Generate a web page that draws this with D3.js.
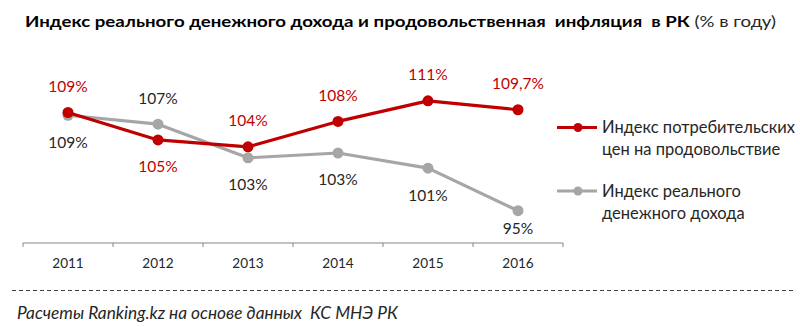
<!DOCTYPE html>
<html><head><meta charset="utf-8">
<script src="https://cdn.jsdelivr.net/npm/d3@7/dist/d3.min.js"></script>
<style>
html,body{margin:0;padding:0;background:#fff;}
svg{display:block;font-family:Lato,"Open Sans",sans-serif;}
.pre{white-space:pre;}
</style></head>
<body>
<svg id="chart" width="800" height="327"></svg>
<script>
// ---- data ----
const years = ["2011","2012","2013","2014","2015","2016"];
const foodCPI = [109.3, 105.3, 104.3, 108.0, 111.0, 109.7];
const foodCPILabels = ["109%","105%","104%","108%","111%","109,7%"];
const foodCPILabelPos = ["above","below","above","above","above","above"];
const realIncome = [108.9, 107.6, 102.7, 103.4, 101.2, 95.0];
const realIncomeLabels = ["109%","107%","103%","103%","101%","95%"];
const realIncomeLabelPos = ["below","above","below","below","below","belowNear"];
const seriesNames = [["Индекс потребительских","цен на продовольствие"],["Индекс реального","денежного дохода"]];
const titleBold = "Индекс реального денежного дохода и продовольственная  инфляция  в РК";
const titleNormal = " (% в году)";
const sourceText = "Расчеты Ranking.kz на основе данных  КС МНЭ РК";

// ---- helpers ----
const svg = d3.select("#chart");
function fitSize(text, targetWidth, attrs) {
  const t = svg.append("text").attr("font-size", 20).text(text);
  Object.entries(attrs || {}).forEach(([k, v]) => t.attr(k, v));
  const w = t.node().getComputedTextLength();
  t.remove();
  return 20 * targetWidth / w;
}

// ---- layout ----
const plot = {left: 23, right: 563, top: 39, bottom: 243};
const x = d3.scaleBand().domain(years).range([plot.left, plot.right]).padding(0);
const y = d3.scaleLinear().domain([90.3, 120]).range([plot.bottom, plot.top]);
const cx = d => x(d) + x.bandwidth()/2;

const series = [
  {vals: foodCPI, labels: foodCPILabels, pos: foodCPILabelPos, color: "#c00000", labelColor: "#c00000"},
  {vals: realIncome, labels: realIncomeLabels, pos: realIncomeLabelPos, color: "#a6a6a6", labelColor: "#262626"}
];
const offsets = {above: -26, below: 27, belowNear: 18};

// title
const title = svg.append("text").attr("class", "pre").attr("x", 25).attr("y", 27)
  .attr("font-size", 14.5).attr("fill", "#000");
title.append("tspan").attr("font-weight", "bold").text(titleBold);
title.append("tspan").attr("fill", "#262626").text(titleNormal);
title.attr("textLength", 751).attr("lengthAdjust", "spacingAndGlyphs");

// axis
const tickFont = fitSize("2011", 31.5);
const axis = svg.append("g").attr("transform", `translate(0,${plot.bottom})`)
  .call(d3.axisBottom(x).tickSize(0).tickFormat(d => d));
axis.select(".domain").remove();
axis.selectAll("text").attr("font-size", tickFont).attr("fill", "#262626")
  .attr("font-family", "Lato, sans-serif").attr("dy", "0.35em").attr("y", 20);
svg.append("line").attr("x1", plot.left).attr("x2", plot.right)
  .attr("y1", plot.bottom).attr("y2", plot.bottom).attr("stroke", "#868686").attr("stroke-width", 1);
const tickPos = years.map(d => x(d)).concat([plot.right]);
svg.selectAll("line.tk").data(tickPos).join("line").attr("class","tk")
  .attr("x1", d => d).attr("x2", d => d).attr("y1", plot.bottom).attr("y2", plot.bottom + 4)
  .attr("stroke", "#868686");

// lines (grey first, red on top)
const line = d3.line().x((d,i) => cx(years[i])).y(d => y(d));
[series[1], series[0]].forEach(s => {
  svg.append("path").datum(s.vals).attr("d", line).attr("fill", "none")
    .attr("stroke", s.color).attr("stroke-width", 3.2).attr("stroke-linejoin", "round");
  svg.selectAll(null).data(s.vals).join("circle")
    .attr("cx", (d,i) => cx(years[i])).attr("cy", d => y(d)).attr("r", 5.5)
    .attr("fill", s.color);
});
const labelFont = fitSize("109,7%", 52);
series.forEach(s => {
  svg.selectAll(null).data(s.vals).join("text")
    .attr("x", (d,i) => cx(years[i])).attr("y", (d,i) => y(d) + offsets[s.pos[i]])
    .attr("dy", "0.35em").attr("text-anchor", "middle").attr("font-size", labelFont)
    .attr("fill", s.labelColor).text((d,i) => s.labels[i]);
});

// legend
const legFont = fitSize(seriesNames[0][0], 193);
const legY = [127.5, 191];
series.forEach((s, k) => {
  const g = svg.append("g").attr("transform", `translate(557,${legY[k]})`);
  g.append("line").attr("x1", 0).attr("x2", 40).attr("stroke", s.color).attr("stroke-width", 3.2);
  g.append("circle").attr("cx", 21).attr("r", 4.5).attr("fill", s.color);
  seriesNames[k].forEach((t, j) => {
    g.append("text").attr("x", 45).attr("y", j * 22).attr("dy", "0.35em")
      .attr("font-size", legFont).attr("fill", "#262626").text(t);
  });
});

// dashed separator
svg.append("line").attr("x1", 12).attr("x2", 796).attr("y1", 290.5).attr("y2", 290.5)
  .attr("stroke", "#404040").attr("stroke-width", 1.2).attr("stroke-dasharray", "4,3");

// source
const srcFont = fitSize(sourceText, 381, {"font-style": "italic", "class": "pre"});
svg.append("text").attr("class", "pre").attr("x", 17).attr("y", 313).attr("dy", "0.35em").attr("font-size", srcFont)
  .attr("font-style", "italic").attr("fill", "#262626").text(sourceText);
</script>
</body></html>
